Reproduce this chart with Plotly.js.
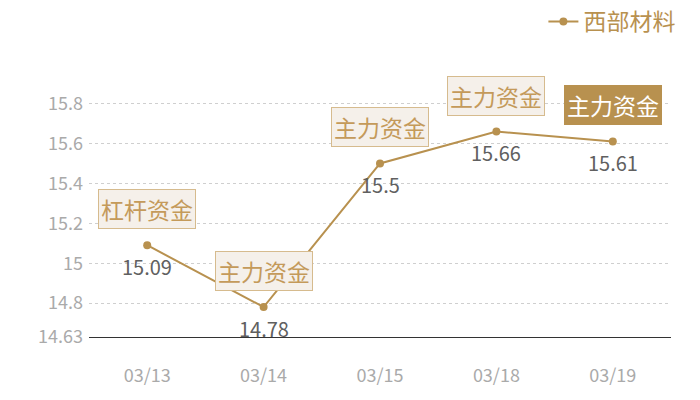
<!DOCTYPE html>
<html>
<head>
<meta charset="utf-8">
<script src="https://cdn.plot.ly/plotly-3.0.1.min.js"></script>
<style>html,body{margin:0;padding:0;background:#fff;}#chart{width:700px;height:400px;}</style>
</head>
<body>
<div id="chart"></div>
<script>
const categories = ['03/13', '03/14', '03/15', '03/18', '03/19'];
const seriesName = '西部材料';
const prices = [15.09, 14.78, 15.5, 15.66, 15.61];
const tags = ['杠杆资金', '主力资金', '主力资金', '主力资金', '主力资金'];
const highlighted = [false, false, false, false, true];
const yTickVals = [14.63, 14.8, 15, 15.2, 15.4, 15.6, 15.8, 15.817];
const yTickText = ['14.63', '14.8', '15', '15.2', '15.4', '15.6', '15.8', ''];

const gold = '#b8914f';
const font = '"Noto Sans CJK SC", "Noto Sans", sans-serif';

const trace = {
  x: categories, y: prices, name: seriesName, type: 'scatter', mode: 'lines+markers',
  line: {color: gold, width: 2}, marker: {color: gold, size: 8},
  hoverinfo: 'none'
};

const annotations = [];
categories.forEach((c, i) => {
  annotations.push({
    x: c, y: prices[i], xref: 'x', yref: 'y', text: String(prices[i]), showarrow: false,
    yanchor: 'middle', yshift: -21, font: {family: font, size: 20, color: '#606060'}
  });
  annotations.push({
    x: c, y: prices[i], xref: 'x', yref: 'y', text: tags[i], showarrow: false,
    yanchor: 'bottom', yshift: 16,
    font: {family: font, size: 23, color: highlighted[i] ? '#ffffff' : '#c49a5a'},
    bgcolor: highlighted[i] ? gold : '#f5f0ea',
    bordercolor: highlighted[i] ? gold : '#d6bb8e', borderwidth: 1, borderpad: 2
  });
});

const layout = {
  width: 700, height: 400,
  margin: {l: 89, r: 29, t: 100, b: 63, autoexpand: false},
  paper_bgcolor: '#fff', plot_bgcolor: '#fff',
  font: {family: font},
  showlegend: true,
  legend: {
    xref: 'container', yref: 'container', x: 0.972, xanchor: 'right', y: 1.0, yanchor: 'top',
    font: {family: font, size: 23, color: gold}, bgcolor: 'rgba(0,0,0,0)', itemwidth: 30
  },
  xaxis: {
    type: 'category', range: [-0.5, 4.5], showgrid: false, zeroline: false,
    showline: true, linecolor: '#333', linewidth: 1, ticks: '',
    tickfont: {family: font, size: 18, color: '#aaaaaa'}, ticklabelstandoff: 22, fixedrange: true
  },
  yaxis: {
    range: [14.63, 15.818], tickmode: 'array', tickvals: yTickVals, ticktext: yTickText,
    showgrid: true, gridcolor: '#cfcfcf', griddash: 'dot', gridwidth: 1,
    zeroline: false, showline: false, ticks: '',
    tickfont: {family: font, size: 18, color: '#aaaaaa'}, ticklabelstandoff: 5, fixedrange: true
  },
  annotations: annotations
};

Plotly.newPlot('chart', [trace], layout, {displayModeBar: false, staticPlot: true});
</script>
</body>
</html>
